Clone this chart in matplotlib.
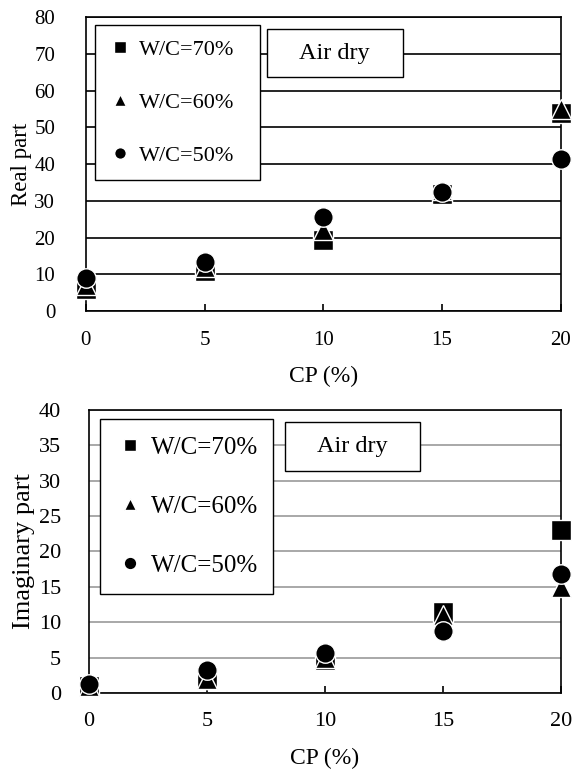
import matplotlib; matplotlib.use("Agg")
import matplotlib.pyplot as plt
from matplotlib.patches import Rectangle

plt.rcParams.update({"font.family": ["Liberation Serif", "DejaVu Serif"], "axes.linewidth": 1.2})

CP = [0, 5, 10, 15, 20]
SERIES = ["W/C=70%", "W/C=60%", "W/C=50%"]
MARKERS = ["s", "^", "o"]
REAL_70 = [6, 11, 19.5, 32, 54]
REAL_60 = [7, 12, 22, 33, 55]
REAL_50 = [9, 13.5, 25.5, 32.5, 41.5]
IMAG_70 = [1, 2, 4.7, 11.5, 23]
IMAG_60 = [1, 2, 5, 11, 15]
IMAG_50 = [1.3, 3.3, 5.6, 8.8, 16.8]

fig = plt.figure(figsize=(5.8, 7.8), dpi=100)

def panel(rect, ys, ymax, ystep, gridc, ylabel, ylfs, tickfs, legfs, lspace, bpad, mscale,
          leg_anchor, box, ypad, ylpad):
    ax = fig.add_axes(rect)
    for y, m, lab in zip(ys, MARKERS, SERIES):
        ax.plot(CP, y, ls="none", marker=m, ms=14, mfc="black", mec="white", mew=1.0,
                label=lab, clip_on=False, zorder=5)
    ax.set_xlim(0, 20); ax.set_ylim(0, ymax)
    ax.set_xticks(CP); ax.set_yticks(range(0, ymax + 1, ystep))
    ax.grid(axis="y", color=gridc, lw=1.2); ax.set_axisbelow(True)
    ax.tick_params(axis="x", direction="in", length=5, width=1.2, labelsize=tickfs, pad=14)
    ax.tick_params(axis="y", length=0, labelsize=tickfs, pad=ypad)
    ax.set_xlabel("CP (%)", fontsize=17, labelpad=12)
    ax.set_ylabel(ylabel, fontsize=ylfs, labelpad=ylpad)
    leg = ax.legend(loc="upper left", bbox_to_anchor=leg_anchor, mode="expand", fontsize=legfs,
                    frameon=True, fancybox=False, edgecolor="black", framealpha=1, markerscale=mscale,
                    labelspacing=lspace, borderpad=bpad, handlelength=1.0, handletextpad=0.34,
                    borderaxespad=0)
    leg.get_frame().set_linewidth(1.0)
    leg.set_zorder(6)
    x0, y0, w, h = box
    ax.add_patch(Rectangle((x0, y0), w, h, transform=ax.transAxes, facecolor="white",
                           edgecolor="black", lw=1.0, zorder=6))
    ax.text(x0 + w / 2, y0 + h / 2, "Air dry", transform=ax.transAxes, ha="center", va="center",
            fontsize=17.5, zorder=7)
    return ax

panel([0.148, 0.601, 0.819, 0.377], [REAL_70, REAL_60, REAL_50], 80, 10, "black", "Real part",
      16.5, 15, 16, 1.45, 0.65, 0.6, (0.019, 0.973, 0.347, 0.0), (0.381, 0.796, 0.286, 0.163), 22, 2)
panel([0.153, 0.1115, 0.814, 0.363], [IMAG_70, IMAG_60, IMAG_50], 40, 5, "#999999", "Imaginary part",
      19, 16, 18, 1.46, 0.7, 0.65, (0.023, 0.968, 0.367, 0.0), (0.415, 0.784, 0.286, 0.173), 20, 3)

fig.savefig("out.png", dpi=100, facecolor="white")
